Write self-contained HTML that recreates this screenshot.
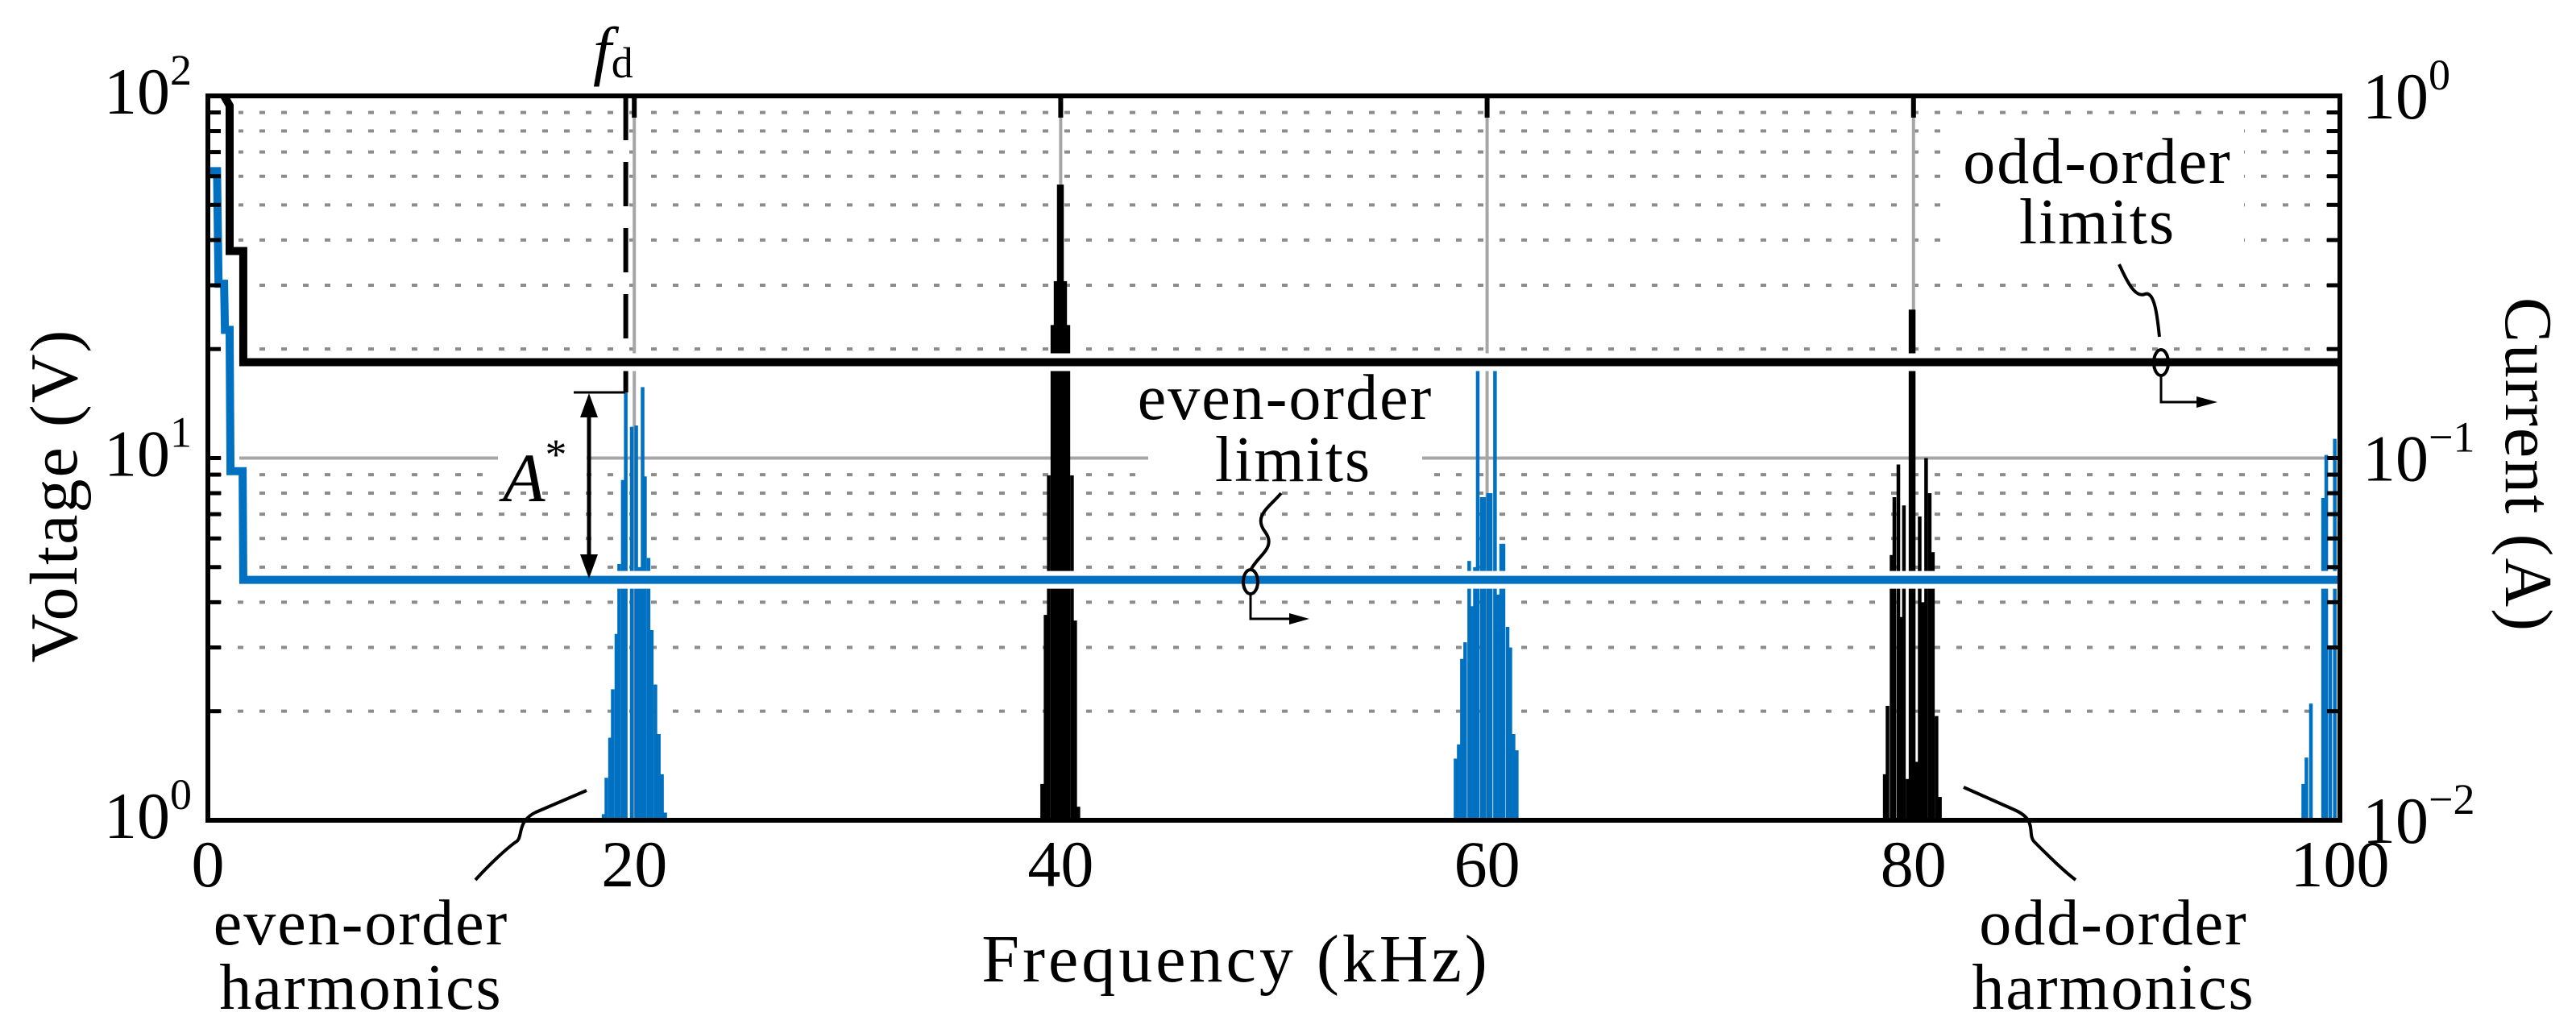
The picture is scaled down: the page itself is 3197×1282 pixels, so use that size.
<!DOCTYPE html>
<html><head><meta charset="utf-8"><style>
html,body{margin:0;padding:0;background:#fff;}
svg{display:block;font-family:"Liberation Serif",serif;}
</style></head><body>
<svg id="chart" width="3197" height="1282" viewBox="0 0 3197 1282" xmlns="http://www.w3.org/2000/svg">
<rect x="0" y="0" width="3197" height="1282" fill="#fff"/>
<g id="grid"></g>
<g id="bars"></g>
<g id="annot-bg">
  <rect x="618" y="545" width="110" height="60" fill="#fff"/>
  <rect x="1425" y="470" width="340" height="132" fill="#fff"/>
  <rect x="2425" y="150" width="360" height="150" fill="#fff"/>
</g>
<g id="limits"></g>
<g id="axes"></g>
<g id="annot">
  <text x="736" y="90" font-size="82" font-style="italic">f<tspan font-size="54" font-style="normal" dy="6">d</tspan></text>
  <line x1="712" y1="487" x2="776" y2="487" stroke="#000" stroke-width="3"/>
  <line x1="731" y1="500" x2="731" y2="706" stroke="#000" stroke-width="5"/>
  <polygon points="731,488 720,518 742,518" fill="#000"/>
  <polygon points="731,718 720,688 742,688" fill="#000"/>
  <text x="624" y="622" font-size="86" font-style="italic">A<tspan font-size="54" font-style="normal" dy="-40">*</tspan></text>
  <text x="1595" y="520" font-size="80" text-anchor="middle" letter-spacing="2">even-order</text>
  <text x="1605" y="597" font-size="80" text-anchor="middle" letter-spacing="2">limits</text>
  <path d="M1590,612 C1575,630 1555,640 1570,660 C1585,680 1560,690 1552,708" fill="none" stroke="#000" stroke-width="4"/>
  <ellipse cx="1552" cy="722" rx="9" ry="15" fill="none" stroke="#000" stroke-width="4"/>
  <polyline points="1552,737 1552,768 1605,768" fill="none" stroke="#000" stroke-width="3"/>
  <polygon points="1625,768 1600,761 1600,775" fill="#000"/>
  <text x="2603" y="227" font-size="80" text-anchor="middle" letter-spacing="2">odd-order</text>
  <text x="2603" y="302" font-size="80" text-anchor="middle" letter-spacing="2">limits</text>
  <path d="M2630,328 C2640,350 2650,370 2662,365 C2675,360 2678,400 2680,418" fill="none" stroke="#000" stroke-width="4"/>
  <ellipse cx="2682" cy="450" rx="9" ry="16" fill="none" stroke="#000" stroke-width="4"/>
  <polyline points="2682,466 2682,499 2732,499" fill="none" stroke="#000" stroke-width="3"/>
  <polygon points="2752,499 2726,492 2726,506" fill="#000"/>
  <path d="M728,981 L665,1008 C640,1020 650,1040 640,1045 C630,1052 610,1070 590,1092" fill="none" stroke="#000" stroke-width="4"/>
  <path d="M2437,977 L2500,1005 C2530,1018 2515,1035 2525,1045 C2540,1060 2560,1080 2576,1092" fill="none" stroke="#000" stroke-width="4"/>
  <text x="448" y="1172" font-size="80" text-anchor="middle" letter-spacing="2">even-order</text>
  <text x="448" y="1252" font-size="80" text-anchor="middle" letter-spacing="2">harmonics</text>
  <text x="2623" y="1172" font-size="80" text-anchor="middle" letter-spacing="2">odd-order</text>
  <text x="2623" y="1252" font-size="80" text-anchor="middle" letter-spacing="2">harmonics</text>
  <text x="1534" y="1218" font-size="84" text-anchor="middle" letter-spacing="4">Frequency (kHz)</text>
  <text transform="translate(95,615) rotate(-90)" font-size="84" text-anchor="middle" letter-spacing="2">Voltage (V)</text>
  <text transform="translate(3110,577) rotate(90)" font-size="84" text-anchor="middle" letter-spacing="2">Current (A)</text>
</g>
</svg>
<script>
// ---- data ----
const xTicks = [0, 20, 40, 60, 80, 100];
const yLeftExp = [0, 1, 2];
const yRightExp = ["\u22122", "\u22121", "0"];
const blueFreq = [18.56,18.69,18.86,18.99,19.16,19.29,19.46,19.60,19.88,20.09,20.24,20.39,20.50,20.67,20.82,20.99,21.15,21.30,21.45,
  58.52,58.67,58.82,58.97,59.16,59.31,59.43,59.56,59.75,59.86,60.05,60.17,60.37,60.51,60.66,60.77,60.96,61.09,61.24,61.39,
  98.28,98.43,98.64,99.21,99.36,99.55,99.76];
const blueVal = [1.04,1.31,1.69,2.3,3.27,5.1,8.7,15.2,12.2,12.3,5.0,15.7,8.9,5.3,3.35,2.37,1.73,1.34,1.05,
  1.48,1.62,2.79,3.1,5.2,3.9,5.0,17.4,7.8,7.8,8.0,8.0,17.4,4.2,5.8,5.8,3.42,3.0,1.73,1.56,
  1.26,1.49,2.1,7.76,10.2,3.04,11.3];
const blackFreq = [39.13,39.29,39.44,39.61,39.76,39.91,40.06,40.21,40.36,40.53,40.68,40.83,
  78.65,78.78,78.97,79.10,79.29,79.42,79.55,79.72,79.86,80.01,80.14,80.29,80.44,80.59,80.76,80.91,81.08,81.24];
const blackVal = [1.26,3.69,8.96,23.3,30.8,56.9,56.9,30.8,23.3,8.96,3.56,1.09,
  1.34,2.07,5.4,7.8,9.6,3.64,7.4,1.3,25.7,25.7,1.45,6.9,4.0,10.0,8.0,5.5,1.94,1.16];
const oddLimitF = [0.76,1.02,1.02,1.66,1.66,100];
const oddLimitV = [100,94,37.3,37.3,18.4,18.4];
const evenLimitF = [0.11,0.43,0.5,0.76,0.8,1.02,1.06,1.63,1.66,100];
const evenLimitV = [62,62,30.3,30.3,22.6,22.6,9.2,9.2,4.61,4.61];
const fdFreq = 19.6;

// ---- scales ----
const X0 = 258, X1 = 2904, YT = 119, YB = 1018;
const xs = f => X0 + f * (X1 - X0) / 100;
const ys = v => YB - Math.log10(v) * (YB - YT) / 2;
const NS = "http://www.w3.org/2000/svg";
function mk(tag, attrs, parent) {
  const e = document.createElementNS(NS, tag);
  for (const k in attrs) e.setAttribute(k, attrs[k]);
  parent.appendChild(e);
  return e;
}
const grid = document.getElementById('grid');
const bars = document.getElementById('bars');
const limits = document.getElementById('limits');
const axes = document.getElementById('axes');

// grid
for (let d = 0; d < 2; d++) {
  for (let m = 2; m <= 9; m++) {
    const y = ys(m * Math.pow(10, d));
    const g = mk('line', {x1: X0 + 10, y1: y, x2: X1 - 10, y2: y, stroke: '#8c8c8c', 'stroke-width': 4, 'stroke-dasharray': '7 20'}, grid);
    
    
  }
}
const g10 = mk('line', {x1: X0, y1: ys(10), x2: X1, y2: ys(10), stroke: '#a6a6a6', 'stroke-width': 4}, grid);


xTicks.slice(1, 5).forEach(t => {
  const l = mk('line', {x1: xs(t), y1: YT, x2: xs(t), y2: YB, stroke: '#a6a6a6', 'stroke-width': 4}, grid);
  
  
});

// bars
const BW = 0.17;
function drawBars(freqs, vals, color, name) {
  freqs.forEach((f, i) => {
    const y = ys(vals[i]);
    const r = mk('rect', {x: xs(f - BW / 2), y: y, width: xs(BW) - X0, height: YB - y, fill: color}, bars);
    
    
  });
}
drawBars(blueFreq, blueVal, '#0070c0', 'even-harmonic-bar');
drawBars(blackFreq, blackVal, '#000', 'odd-harmonic-bar');

// fd dashed line
const fdl = mk('line', {x1: xs(fdFreq), y1: YT, x2: xs(fdFreq), y2: 487, stroke: '#000', 'stroke-width': 6, 'stroke-dasharray': '55 27'}, limits);



// limit lines
function pts(F, V) { return F.map((f, i) => xs(f) + ',' + ys(V[i])).join(' '); }
[[oddLimitF, oddLimitV], [evenLimitF, evenLimitV]].forEach(s => {
  const h = mk('polyline', {points: pts(s[0], s[1]), fill: 'none', stroke: '#fff', 'stroke-width': 22}, limits);
  
  
});
[[oddLimitF, oddLimitV, '#000', 'odd-order-limit-line'], [evenLimitF, evenLimitV, '#0070c0', 'even-order-limit-line']].forEach(s => {
  const p = mk('polyline', {points: pts(s[0], s[1]), fill: 'none', stroke: s[2], 'stroke-width': 10}, limits);
  
  
});

// frame
const fr = mk('rect', {x: X0, y: YT, width: X1 - X0, height: YB - YT, fill: 'none', stroke: '#000', 'stroke-width': 6}, axes);


// y minor ticks both sides
for (let d = 0; d < 2; d++) {
  for (let m = 2; m <= 10; m++) {
    const y = ys(m * Math.pow(10, d));
    const a = mk('line', {x1: X0, y1: y, x2: X0 + 16, y2: y, stroke: '#000', 'stroke-width': 5}, axes);
    
    
    const b = mk('line', {x1: X1 - 16, y1: y, x2: X1, y2: y, stroke: '#000', 'stroke-width': 5}, axes);
    
    
  }
}
// x ticks & labels
xTicks.forEach(t => {
  if (t > 0 && t < 100) {
    const k = mk('line', {x1: xs(t), y1: YT, x2: xs(t), y2: YT + 27, stroke: '#000', 'stroke-width': 6}, axes);
    
    
  }
  const tx = mk('text', {x: xs(t), y: 1100, 'font-size': 82, 'text-anchor': 'middle'}, axes);
  tx.textContent = String(t);
  
  
});
// y labels
yLeftExp.forEach(e => {
  const y = ys(Math.pow(10, e));
  const tx = mk('text', {x: 238, y: y + 22, 'font-size': 82, 'text-anchor': 'end'}, axes);
  tx.innerHTML = '10<tspan font-size="54" dy="-36">' + e + '</tspan>';
  
  
});
yRightExp.forEach((e, i) => {
  const y = ys(Math.pow(10, i));
  const tx = mk('text', {x: 2932, y: y + 28, 'font-size': 82}, axes);
  tx.innerHTML = '10<tspan font-size="54" dy="-36">' + e + '</tspan>';
  
  
});
</script>
</body></html>
